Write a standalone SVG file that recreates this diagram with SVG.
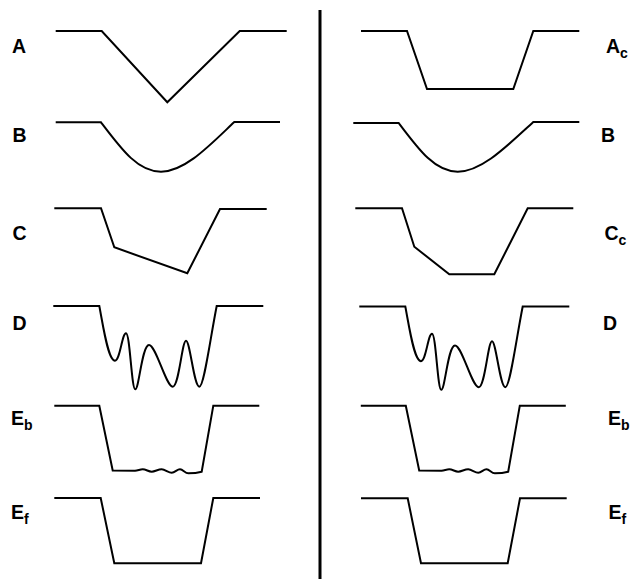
<svg xmlns="http://www.w3.org/2000/svg" width="632" height="579" viewBox="0 0 632 579">
<style>
.p{fill:none;stroke:#000;stroke-width:2;stroke-linejoin:miter}
.l{font-family:"Liberation Sans",Arial,sans-serif;font-weight:bold;font-size:19.5px;fill:#000}
.s{font-size:14px}
</style>
<rect width="632" height="579" fill="#fff"/>
<line x1="320" y1="10" x2="320" y2="579" stroke="#000" stroke-width="3"/>
<g id="left">
  <g id="row-A"><text class="l" x="12" y="53">A</text>
    <path class="p" d="M55.7,31 H101.7 L167.3,102.3 L239.7,31 H286.7"/></g>
  <g id="row-B"><text class="l" x="12.5" y="142">B</text>
    <path class="p" d="M55.7,122.3 H101 C122,150 138,171.7 161,171.7 C185,171.7 210,145 234.3,122 H280"/></g>
  <g id="row-C"><text class="l" x="12.5" y="239.5">C</text>
    <path class="p" d="M54.3,208.3 H101 L114.3,247.3 L187.3,273.3 L220,209 H266.7"/></g>
  <g id="row-D"><text class="l" x="12.5" y="330">D</text>
    <path class="p" d="M53.3,306 H99.3 C103,325 108,360.7 115,360.7 C120,360.7 122,333.3 126,333.3 C130,333.3 131.5,389.3 135.3,389.3 C139,389.3 142,345 149,345 C156,345 166,386.7 172.7,386.7 C179,386.7 182,340.7 186,340.7 C190,340.7 194,386.7 199.3,386.7 C204,386.7 210,340 216.7,306 H263.3"/></g>
  <g id="row-Eb"><text class="l" x="11" y="424.5">E<tspan class="s" dy="5">b</tspan></text>
    <path class="p" d="M54.3,405.7 H99.3 L112.7,470.5 L135,470.7 C138,470.5 140,469.3 142.7,469.3 C146,469.3 148.5,471.7 151.7,471.7 C155,471.7 158,469.3 161.7,469.3 C165,469.3 168.5,472.7 171.7,472.7 C175,472.7 177,469.3 180,469.3 C183,469.3 185,473.3 188.3,473.3 C193,473.3 197,473 201.7,471.7 L213.3,405.7 H259.3"/></g>
  <g id="row-Ef"><text class="l" x="11" y="519">E<tspan class="s" dy="5">f</tspan></text>
    <path class="p" d="M54.3,498 H100.7 L114.3,563.3 H201 L213.3,498 H260"/></g>
</g>
<g id="right">
  <g id="row-Ac"><text class="l" x="606" y="52.5">A<tspan class="s" dy="5">c</tspan></text>
    <path class="p" d="M361,31 H407 L427,89 H513.3 L533.3,31 H579.3"/></g>
  <g id="row-B2"><text class="l" x="601" y="142">B</text>
    <path class="p" d="M353.3,123 H398.7 C419,150 435,171.7 457.7,171.7 C482,171.7 508,145 533.3,122 H579.3"/></g>
  <g id="row-Cc"><text class="l" x="604.5" y="239.5">C<tspan class="s" dy="5">c</tspan></text>
    <path class="p" d="M355.3,208.3 H402 L414.3,246.7 L449.3,274.3 H494.3 L527.7,208.3 H573.3"/></g>
  <g id="row-D2"><text class="l" x="603" y="330">D</text>
    <path class="p" transform="translate(306,0.5)" d="M53.3,306 H99.3 C103,325 108,360.7 115,360.7 C120,360.7 122,333.3 126,333.3 C130,333.3 131.5,389.3 135.3,389.3 C139,389.3 142,345 149,345 C156,345 166,386.7 172.7,386.7 C179,386.7 182,340.7 186,340.7 C190,340.7 194,386.7 199.3,386.7 C204,386.7 210,340 216.7,306 H263.3"/></g>
  <g id="row-Eb2"><text class="l" x="608" y="424.5">E<tspan class="s" dy="5">b</tspan></text>
    <path class="p" transform="translate(306.5,0)" d="M54.3,405.7 H99.3 L112.7,470.5 L135,470.7 C138,470.5 140,469.3 142.7,469.3 C146,469.3 148.5,471.7 151.7,471.7 C155,471.7 158,469.3 161.7,469.3 C165,469.3 168.5,472.7 171.7,472.7 C175,472.7 177,469.3 180,469.3 C183,469.3 185,473.3 188.3,473.3 C193,473.3 197,473 201.7,471.7 L213.3,405.7 H259.3"/></g>
  <g id="row-Ef2"><text class="l" x="608.5" y="519">E<tspan class="s" dy="5">f</tspan></text>
    <path class="p" d="M361,498.3 H407.7 L421,563.3 H507.7 L520,498.3 H566.7"/></g>
</g>
</svg>
